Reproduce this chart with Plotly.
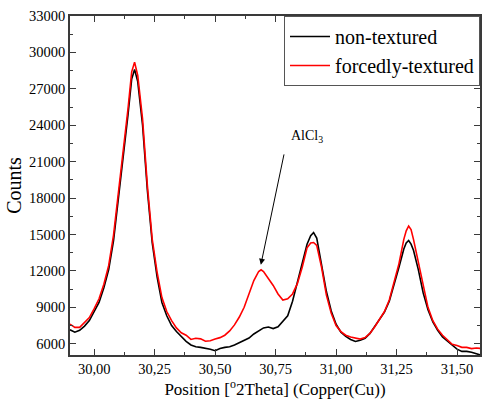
import plotly.graph_objects as go

# 2-theta positions (degrees) shared by both scans
two_theta = [
    29.90, 29.92, 29.94, 29.96, 29.98, 30.00, 30.02, 30.04, 30.06, 30.08,
    30.10, 30.12, 30.14, 30.155, 30.167, 30.18, 30.20, 30.22, 30.24, 30.26,
    30.28, 30.30, 30.32, 30.34, 30.36, 30.38, 30.40, 30.42, 30.44, 30.46,
    30.48, 30.50, 30.52, 30.54, 30.56, 30.58, 30.60, 30.62, 30.64, 30.66,
    30.68, 30.69, 30.70, 30.72, 30.74, 30.76, 30.78, 30.80, 30.82, 30.84,
    30.86, 30.88, 30.895, 30.907, 30.92, 30.94, 30.96, 30.98, 31.00, 31.02,
    31.04, 31.06, 31.08, 31.10, 31.12, 31.14, 31.16, 31.18, 31.20, 31.22,
    31.24, 31.26, 31.28, 31.29, 31.30, 31.31, 31.32, 31.34, 31.36, 31.38,
    31.40, 31.42, 31.44, 31.46, 31.48, 31.50, 31.52, 31.54, 31.56, 31.58,
    31.60,
]

non_textured = [
    7150, 6950, 7100, 7450, 7900, 8600, 9400, 10600, 12100, 14500,
    17800, 21500, 24900, 27800, 28600, 27600, 24000, 18600, 14300, 11500,
    9400, 8300, 7500, 7000, 6600, 6200, 5900, 5750, 5700, 5650,
    5550, 5420, 5600, 5700, 5750, 5900, 6100, 6300, 6470, 6800,
    7080, 7200, 7300, 7370, 7250, 7400, 7850, 8300, 9500, 11000,
    12600, 14200, 14900, 15160, 14700, 12500, 10300, 8700, 7600, 6950,
    6600, 6350, 6190, 6280, 6450, 6850, 7420, 7950, 8600, 9500,
    10800, 12300, 13800, 14300, 14500, 14200, 13700, 12100, 10200, 8800,
    7800, 7100, 6550, 6200, 5850, 5550, 5370, 5370, 5300, 5150,
    5050,
]

forcedly_textured = [
    7620, 7350, 7350, 7750, 8150, 8900, 9700, 10900, 12450, 14950,
    18300, 22000, 25400, 28400, 29200, 28100, 24500, 19000, 14600, 11900,
    9800, 8650, 7900, 7300, 6900, 6700, 6350, 6450, 6400, 6200,
    6250, 6380, 6500, 6700, 7050, 7550, 8200, 9000, 10170, 11200,
    11950, 12090, 11950, 11400, 10800, 10100, 9600, 9700, 10100, 10950,
    12300, 13900, 14300, 14340, 14100, 12300, 10000, 8500, 7500, 7000,
    6700, 6550, 6450, 6380, 6500, 6850, 7400, 8000, 8650, 9600,
    11000, 12600, 14600, 15300, 15700, 15400, 14600, 12700, 10600, 9000,
    7900, 7200, 6700, 6300, 5950, 5850, 5700, 5700, 5600, 5650,
    5600,
]

# AlCl3 reflection marker: arrow tip and tail, label position
alcl3_tip = (30.689, 12500)
alcl3_tail = (30.786, 21720)
alcl3_label = (30.878, 23040)

FONT = "Liberation Serif"
AXIS_COLOR = "#3a3a3a"

fig = go.Figure()
fig.add_trace(go.Scatter(
    x=two_theta, y=non_textured, mode="lines", name="non-textured",
    line=dict(color="#000000", width=1.6),
))
fig.add_trace(go.Scatter(
    x=two_theta, y=forcedly_textured, mode="lines", name="forcedly-textured",
    line=dict(color="#ff0000", width=1.6),
))

# arrow pointing at the AlCl3 hump
fig.add_annotation(
    x=alcl3_tip[0], y=alcl3_tip[1], ax=alcl3_tail[0], ay=alcl3_tail[1],
    xref="x", yref="y", axref="x", ayref="y",
    text="", showarrow=True, arrowhead=2, arrowsize=1.2, arrowwidth=1,
    arrowcolor="#000000",
)
fig.add_annotation(
    x=alcl3_label[0], y=alcl3_label[1], xref="x", yref="y",
    text="AlCl<sub>3</sub>", showarrow=False,
    font=dict(family=FONT, size=14, color="#000000"),
)

axis_common = dict(
    showline=True, linecolor=AXIS_COLOR, linewidth=1.5, mirror="allticks",
    ticks="inside", ticklen=6, tickwidth=1.2, tickcolor=AXIS_COLOR,
    showgrid=False, zeroline=False, automargin=True,
    tickfont=dict(family=FONT, size=14.5, color="#000000"),
)

fig.update_xaxes(
    **axis_common,
    range=[29.90, 31.595], tick0=30.0, dtick=0.25, tickformat=".2f",
    minor=dict(ticks="inside", ticklen=3, dtick=0.125, tickcolor=AXIS_COLOR, tickwidth=1),
    title=dict(text="Position [<sup>o</sup>2Theta] (Copper(Cu))",
               font=dict(family=FONT, size=17, color="#000000"), standoff=4),
)
fig.update_yaxes(
    **axis_common,
    range=[5070, 33000], tick0=0, dtick=3000, tickformat="d",
    minor=dict(ticks="inside", ticklen=3, dtick=1500, tickcolor=AXIS_COLOR, tickwidth=1),
    title=dict(text="Counts", font=dict(family=FONT, size=20, color="#000000"), standoff=2),
)

fig.update_layout(
    width=483, height=401,
    margin=dict(l=70, r=1, t=16, b=46),
    paper_bgcolor="white", plot_bgcolor="white",
    separators=", ",
    showlegend=True,
    legend=dict(
        x=1, y=1, xanchor="right", yanchor="top",
        bgcolor="white", bordercolor="#555555", borderwidth=1,
        font=dict(family=FONT, size=20, color="#000000"),
        tracegroupgap=0, itemwidth=40,
    ),
)

fig.write_html("out.html")
